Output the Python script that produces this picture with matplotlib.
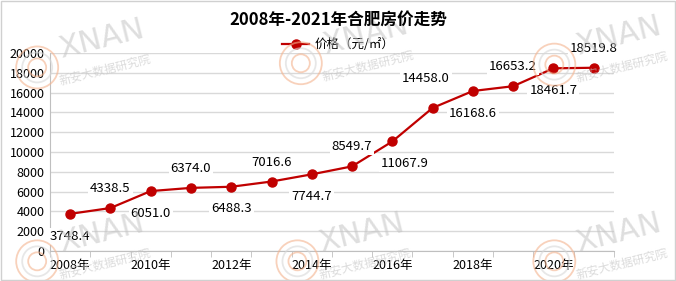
import matplotlib
matplotlib.use('Agg')
import matplotlib.pyplot as plt
from matplotlib.patches import Circle, Rectangle

plt.rcParams['font.family'] = ['Noto Sans CJK SC', 'DejaVu Sans']

# ── data ─────────────────────────────────────────────
years = [2008, 2009, 2010, 2011, 2012, 2013, 2014,
         2015, 2016, 2017, 2018, 2019, 2020, 2021]
prices = [3748.4, 4338.5, 6051.0, 6374.0, 6488.3, 7016.6, 7744.7,
          8549.7, 11067.9, 14458.0, 16168.6, 16653.2, 18461.7, 18519.8]
# label placement: 'b' below, 'a' above
label_pos = ['b', 'a', 'b', 'a', 'b', 'a', 'b',
             'a', 'b', 'a', 'b', 'a', 'b', 'a']
yticks = list(range(0, 20001, 2000))

RED = '#c00000'
GRID = '#d9d9d9'
W, H = 6.76, 2.81

fig = plt.figure(figsize=(W, H), dpi=100)
fig.patch.set_facecolor('white')
fig.patches.append(Rectangle((0.001, 0.002), 0.997, 0.995, transform=fig.transFigure,
                             fill=False, edgecolor='#d0d0d0', linewidth=1))

# ── watermark ────────────────────────────────────────
def watermark(x, y):
    for r, c in [(0.21, '#f4b38e'), (0.15, '#d8d8d8'), (0.09, '#f4b38e')]:
        fig.patches.append(Circle((x * W, y * H), r, transform=fig.dpi_scale_trans,
                                  fill=False, edgecolor=c, linewidth=1.3,
                                  alpha=0.6, zorder=0))
    fig.text(x + 0.095, y + 0.10, 'XNAN', fontsize=22, color='#c4c4c4',
             alpha=0.55, rotation=14, ha='center', va='center',
             family=['DejaVu Sans'], zorder=0)
    fig.text(x + 0.10, y - 0.01, '新安大数据研究院', fontsize=8.5,
             color='#c4c4c4', alpha=0.6, rotation=14, ha='center',
             va='center', zorder=0)

for wx, wy in [(0.055, 0.76), (0.445, 0.775), (0.82, 0.77),
               (0.055, 0.07), (0.44, 0.07), (0.82, 0.07)]:
    watermark(wx, wy)

# ── main axes ────────────────────────────────────────
ax = fig.add_axes([0.074, 0.107, 0.834, 0.704])
ax.set_facecolor('none')
x = list(range(len(years)))
ax.plot(x, prices, color=RED, linewidth=1.6, marker='o', markersize=6.5,
        markerfacecolor=RED, markeredgecolor=RED, label='价格（元/㎡）',
        zorder=3)

for i, (v, p) in enumerate(zip(prices, label_pos)):
    dy = -16 if p == 'b' else 14
    dx = 0
    if i == 8:
        dx = 9
    if i == 9:
        dx, dy = -5, 21
    ax.annotate(f'{v:.1f}', (i, v), textcoords='offset points',
                xytext=(dx, dy), ha='center',
                va='center', fontsize=9.5, color='black', zorder=4,
                bbox=dict(boxstyle='square,pad=0.15', fc='white', ec='none'))

ax.set_xlim(-0.5, len(years) - 0.5)
ax.set_ylim(0, 20000)
ax.set_yticks(yticks)
ax.set_yticklabels([str(t) for t in yticks], fontsize=9)
ax.set_xticks(x)
ax.set_xticklabels([f'{y}年' if i % 2 == 0 else '' for i, y in enumerate(years)],
                   fontsize=9)
ax.set_xticks([i - 0.5 for i in range(len(years) + 1)], minor=True)
ax.tick_params(axis='x', which='major', length=0, pad=6)
ax.tick_params(axis='x', which='minor', length=4, color='#bfbfbf')
ax.tick_params(axis='y', length=0, pad=4)
ax.grid(axis='y', color=GRID, linewidth=1, zorder=0)
ax.set_axisbelow(True)
for s in ['top', 'right']:
    ax.spines[s].set_visible(False)
ax.spines['left'].set_color('#bfbfbf')
ax.spines['bottom'].set_color('#bfbfbf')

fig.text(0.5, 0.928, '2008年-2021年合肥房价走势', ha='center', va='center',
         fontsize=12, fontweight='bold')
ax.legend(loc='center', bbox_to_anchor=(0.5, 0.842), bbox_transform=fig.transFigure,
          frameon=False, fontsize=9, handlelength=2.2, handletextpad=0.4)

fig.savefig('out.png', dpi=100, facecolor='white')
